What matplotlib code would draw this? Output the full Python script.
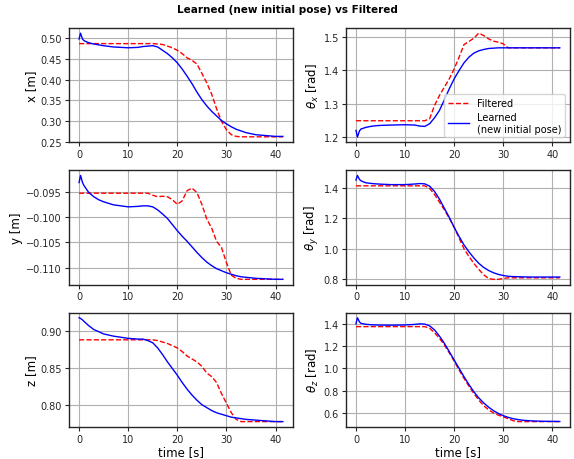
import matplotlib
matplotlib.use("Agg")
import matplotlib.pyplot as plt

# ── data ──────────────────────────────────────────────────────────────────────
t = [0, 0.3, 0.7, 1, 2, 3, 4, 5, 7, 10, 12, 13, 14, 15, 16, 17, 18, 19, 20,
     21, 22, 23, 24, 25, 26, 27, 28, 29, 30, 31, 32, 33, 34, 36, 38, 40, 41.5]

x_filt = [0.486] * 13 + [0.486, 0.485, 0.484, 0.480, 0.476, 0.470, 0.462, 0.452,
          0.446, 0.437, 0.415, 0.392, 0.365, 0.330, 0.300, 0.280, 0.268, 0.264,
          0.263, 0.263, 0.263, 0.263, 0.263, 0.263]
x_learn = [0.497, 0.511, 0.497, 0.493, 0.488, 0.485, 0.483, 0.481, 0.478, 0.476,
           0.477, 0.479, 0.480, 0.481, 0.478, 0.470, 0.462, 0.452, 0.440, 0.425,
           0.408, 0.390, 0.370, 0.352, 0.337, 0.324, 0.313, 0.302, 0.294, 0.287,
           0.281, 0.277, 0.273, 0.268, 0.266, 0.264, 0.264]

y_filt = [-0.0953] * 13 + [-0.0957, -0.0960, -0.0959, -0.0960, -0.0966, -0.0975,
          -0.0968, -0.0948, -0.0943, -0.0952, -0.0975, -0.1004, -0.1022, -0.1048,
          -0.1060, -0.1090, -0.1115, -0.1121, -0.1123, -0.1123, -0.1123, -0.1123,
          -0.1123, -0.1123]
y_learn = [-0.0932, -0.0918, -0.0932, -0.0938, -0.0952, -0.0960, -0.0966, -0.0970,
           -0.0976, -0.0980, -0.0979, -0.0978, -0.0978, -0.0980, -0.0986, -0.0994,
           -0.1003, -0.1015, -0.1027, -0.1038, -0.1048, -0.1059, -0.1070, -0.1080,
           -0.1089, -0.1096, -0.1102, -0.1106, -0.1110, -0.1113, -0.1116, -0.1118,
           -0.1119, -0.1121, -0.1122, -0.1123, -0.1123]

z_filt = [0.888] * 13 + [0.888, 0.887, 0.885, 0.883, 0.880, 0.877, 0.872, 0.866,
          0.862, 0.858, 0.852, 0.843, 0.838, 0.830, 0.815, 0.802, 0.789, 0.780,
          0.777, 0.777, 0.777, 0.777, 0.777, 0.777]
z_learn = [0.918, 0.917, 0.915, 0.913, 0.907, 0.902, 0.899, 0.896, 0.893, 0.890,
           0.889, 0.889, 0.887, 0.884, 0.877, 0.868, 0.858, 0.849, 0.840, 0.830,
           0.821, 0.813, 0.806, 0.800, 0.796, 0.792, 0.789, 0.787, 0.785, 0.783,
           0.782, 0.781, 0.780, 0.779, 0.778, 0.777, 0.777]

thx_filt = [1.249] * 13 + [1.255, 1.295, 1.325, 1.350, 1.375, 1.405, 1.440, 1.478,
            1.487, 1.497, 1.512, 1.505, 1.495, 1.488, 1.485, 1.480, 1.468, 1.468,
            1.468, 1.468, 1.468, 1.468, 1.468, 1.468]
thx_learn = [1.220, 1.200, 1.218, 1.224, 1.229, 1.232, 1.234, 1.235, 1.236, 1.237,
             1.236, 1.233, 1.232, 1.240, 1.258, 1.280, 1.312, 1.345, 1.375, 1.400,
             1.423, 1.440, 1.452, 1.459, 1.463, 1.466, 1.467, 1.468, 1.468, 1.468,
             1.468, 1.468, 1.468, 1.468, 1.468, 1.468, 1.468]

thy_filt = [1.412] * 13 + [1.395, 1.355, 1.305, 1.255, 1.200, 1.140, 1.070, 1.000,
            0.950, 0.905, 0.865, 0.830, 0.805, 0.800, 0.800, 0.806, 0.810, 0.810,
            0.810, 0.810, 0.810, 0.810, 0.810, 0.810]
thy_learn = [1.450, 1.480, 1.455, 1.445, 1.432, 1.428, 1.425, 1.423, 1.420, 1.420,
             1.424, 1.427, 1.425, 1.410, 1.375, 1.325, 1.265, 1.205, 1.140, 1.080,
             1.025, 0.980, 0.940, 0.905, 0.878, 0.858, 0.843, 0.832, 0.825, 0.820,
             0.818, 0.817, 0.816, 0.815, 0.815, 0.815, 0.815]

thz_filt = [1.375] * 13 + [1.360, 1.320, 1.270, 1.210, 1.140, 1.065, 0.985, 0.910,
            0.840, 0.775, 0.715, 0.665, 0.628, 0.600, 0.580, 0.565, 0.548, 0.530,
            0.522, 0.522, 0.522, 0.522, 0.522, 0.522]
thz_learn = [1.400, 1.455, 1.418, 1.405, 1.396, 1.392, 1.390, 1.389, 1.388, 1.390,
             1.395, 1.400, 1.398, 1.382, 1.345, 1.290, 1.225, 1.150, 1.075, 1.000,
             0.925, 0.855, 0.790, 0.735, 0.690, 0.652, 0.620, 0.595, 0.575, 0.560,
             0.548, 0.540, 0.534, 0.528, 0.525, 0.524, 0.523]

labels = ["x [m]", r"$\theta_x$ [rad]",
          "y [m]", r"$\theta_y$ [rad]",
          "z [m]", r"$\theta_z$ [rad]"]
yticks = [[0.25, 0.30, 0.35, 0.40, 0.45, 0.50], [1.2, 1.3, 1.4, 1.5],
          [-0.110, -0.105, -0.100, -0.095], [0.8, 1.0, 1.2, 1.4],
          [0.80, 0.85, 0.90], [0.6, 0.8, 1.0, 1.2, 1.4]]
series = [(x_filt, x_learn), (thx_filt, thx_learn),
          (y_filt, y_learn), (thy_filt, thy_learn),
          (z_filt, z_learn), (thz_filt, thz_learn)]

# ── figure ────────────────────────────────────────────────────────────────────
fig, axes = plt.subplots(3, 2, figsize=(5.74, 4.6), dpi=100)
fig.subplots_adjust(left=0.120, right=0.993, top=0.937, bottom=0.070,
                    wspace=0.235, hspace=0.245)

for i, ax in enumerate(axes.flat):
    filt, learn = series[i]
    ax.plot(t, filt, "r--", lw=1.0, label="Filtered")
    ax.plot(t, learn, "b-", lw=1.0, label="Learned\n(new initial pose)")
    ax.set_yticks(yticks[i])
    ax.set_xticks([0, 10, 20, 30, 40])
    ax.set_ylabel(labels[i], fontsize=8.5, labelpad=2)
    ax.grid(True, color="#b0b0b0", lw=0.8)
    ax.tick_params(labelsize=7, colors="#262626", length=3, pad=2)
    for s in ax.spines.values():
        s.set_linewidth(1.0)
        s.set_color("#262626")

axes[0, 1].legend(loc="lower right", fontsize=7, handlelength=2.2,
                  borderpad=0.4, labelspacing=0.4)
axes[2, 0].set_xlabel("time [s]", fontsize=8.5, labelpad=1)
axes[2, 1].set_xlabel("time [s]", fontsize=8.5, labelpad=1)

fig.suptitle("Learned (new initial pose) vs Filtered", fontsize=7.5,
             fontweight="bold", y=0.99)

plt.savefig("out.png", dpi=100)
